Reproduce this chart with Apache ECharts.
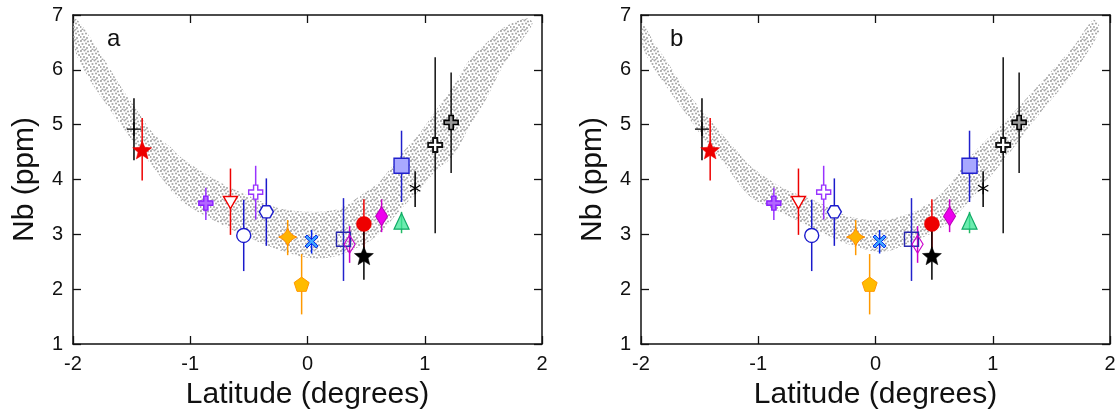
<!DOCTYPE html>
<html>
<head>
<meta charset="utf-8">
<script src="https://cdn.jsdelivr.net/npm/echarts@6/dist/echarts.min.js"></script>
<style>
html,body{margin:0;padding:0;background:#fff;}
#chart{width:1120px;height:416px;}
</style>
</head>
<body>
<div id="chart"></div>
<script>
// ---------------- DATA ----------------
const xTicks = [-2, -1, 0, 1, 2];
const yTicks = [1, 2, 3, 4, 5, 6, 7];
const panelLabels = ['a', 'b'];

// measured samples (same in both panels)
const lat    = [-1.48, -1.41, -0.867, -0.657, -0.544, -0.442, -0.351, -0.169, -0.05, 0.035, 0.307, 0.359, 0.481, 0.481, 0.632, 0.802, 0.802, 0.918, 1.089, 1.225];
const nb     = [4.92, 4.54, 3.57, 3.58, 2.98, 3.77, 3.41, 2.95, 2.09, 2.87, 2.91, 2.82, 3.19, 2.61, 3.33, 3.24, 4.25, 3.84, 4.63, 5.04];
const nbHigh = [5.48, 5.12, 3.85, 4.20, 3.63, 4.25, 4.02, 3.26, 2.64, 3.08, 3.66, 3.15, 3.64, 3.26, 3.64, 3.41, 4.89, 4.15, 6.23, 5.95];
const nbLow  = [4.35, 3.98, 3.26, 2.99, 2.33, 3.27, 2.79, 2.62, 1.54, 2.65, 2.15, 2.48, 2.75, 2.17, 3.04, 3.02, 3.59, 3.50, 3.02, 4.12];

// model cloud envelopes (upper / lower edges)
const bandA_upper = [[-1.983,6.94],[-1.74,6.21],[-1.6,5.72],[-1.457,5.27],[-1.316,4.84],[-1.174,4.6],[-1.089,4.42],[-0.805,4.02],[-0.52,3.72],[-0.237,3.47],[0.047,3.41],[0.274,3.47],[0.5,3.78],[0.62,3.97],[0.814,4.5],[0.956,4.84],[1.098,5.27],[1.24,5.69],[1.38,6.18],[1.52,6.48],[1.665,6.76],[1.87,6.94]];
const bandA_lower = [[-1.983,6.36],[-1.855,5.81],[-1.742,5.45],[-1.6,5.02],[-1.457,4.6],[-1.316,4.23],[-1.089,3.63],[-0.805,3.26],[-0.52,2.96],[-0.237,2.71],[0.047,2.56],[0.274,2.62],[0.5,2.84],[0.62,3.03],[0.814,3.5],[0.956,3.81],[1.098,4.17],[1.24,4.42],[1.38,4.96],[1.52,5.45],[1.665,6.06],[1.81,6.49],[1.92,6.85]];
const bandB_upper = [[-1.983,6.82],[-1.883,6.48],[-1.741,6.03],[-1.6,5.57],[-1.457,5.21],[-1.315,4.84],[-1.173,4.5],[-1.07,4.25],[-0.786,3.84],[-0.502,3.6],[-0.217,3.32],[0.067,3.26],[0.351,3.44],[0.578,3.78],[0.834,4.48],[1.119,5.09],[1.403,5.75],[1.687,6.42],[1.857,6.91]];
const bandB_lower = [[-1.983,6.42],[-1.883,6.0],[-1.741,5.57],[-1.6,5.15],[-1.457,4.72],[-1.315,4.36],[-1.07,3.69],[-0.786,3.38],[-0.502,3.08],[-0.217,2.81],[0.067,2.68],[0.351,2.9],[0.578,3.14],[0.834,3.69],[1.119,4.42],[1.403,5.21],[1.687,5.94],[1.914,6.73]];

// ---------------- STYLES ----------------
const STAR = 'path://M50,0 L62.93,32.2 L97.55,34.55 L70.92,56.8 L79.39,90.45 L50,72 L20.61,90.45 L29.08,56.8 L2.45,34.55 L37.07,32.2 Z';
const CROSS = 'path://M35,0 H65 V35 H100 V65 H65 V100 H35 V65 H0 V35 H35 Z';
const PLUS = 'path://M0,50 L100,50 M50,0 L50,100';
const DTRI = 'path://M0,0 L100,0 L50,87 Z';
const HEX = 'path://M25,0 L75,0 L100,43.3 L75,86.6 L25,86.6 L0,43.3 Z';
const SPARK = 'path://M50,0 Q63,37 100,50 Q63,63 50,100 Q37,63 0,50 Q37,37 50,0 Z';
const PENT = 'path://M50,0 L97.55,34.55 L79.39,90.45 L20.61,90.45 L2.45,34.55 Z';
const XMARK = 'path://M15,0 L50,35 L85,0 L100,15 L65,50 L100,85 L85,100 L50,65 L15,100 L0,85 L35,50 L0,15 Z';
const AST = 'path://M50,0 L50,100 M6.7,25 L93.3,75 M6.7,75 L93.3,25';

const sty = [
  {s: PLUS,  z: 14, fill: 'transparent', stroke: '#000', bw: 1.3, bar: '#000'},
  {s: STAR,  z: 19, fill: '#ee0000', stroke: '#ee0000', bw: 0.5, bar: '#ee0000'},
  {s: CROSS, z: 14, fill: '#b266ff', stroke: '#8a1fff', bw: 1.4, bar: '#9933ff'},
  {s: DTRI,  z: 14, fill: '#ffffff', stroke: '#ee0000', bw: 1.4, bar: '#ee0000'},
  {s: 'circle', z: 14, fill: '#ffffff', stroke: '#1a1acc', bw: 1.4, bar: '#1a1acc'},
  {s: CROSS, z: 14, fill: '#ffffff', stroke: '#9933ff', bw: 1.4, bar: '#9933ff'},
  {s: HEX,   z: 14, fill: '#ffffff', stroke: '#1a1acc', bw: 1.4, bar: '#1a1acc'},
  {s: SPARK, z: 18, fill: '#ffb300', stroke: '#ff8800', bw: 1, bar: '#ff9900'},
  {s: PENT,  z: 15, fill: '#ffbb00', stroke: '#ff9900', bw: 1, bar: '#ff9900'},
  {s: XMARK, z: 13, fill: '#3fa9ff', stroke: '#0022ee', bw: 1, bar: '#0022ee'},
  {s: 'rect', z: 14, fill: 'transparent', stroke: '#2a2ab0', bw: 1.4, bar: '#2222cc'},
  {s: 'diamond', z: [11, 18], fill: 'transparent', stroke: '#cc00cc', bw: 1.2, bar: '#cc00cc'},
  {s: 'circle', z: 15, fill: '#ee0000', stroke: '#ee0000', bw: 0.5, bar: '#ee0000'},
  {s: STAR,  z: 19, fill: '#000000', stroke: '#000000', bw: 0.5, bar: '#000000'},
  {s: 'diamond', z: [12, 19], fill: '#ee00ee', stroke: '#bb00bb', bw: 1, bar: '#cc00cc'},
  {s: 'triangle', z: [15, 16], fill: 'rgba(60,230,150,0.75)', stroke: '#11aa66', bw: 1.2, bar: '#22bb66'},
  {s: 'rect', z: 15, fill: '#a8a8ff', stroke: '#2020cc', bw: 1.4, bar: '#2020cc'},
  {s: AST,   z: 12, fill: 'transparent', stroke: '#000', bw: 1.2, bar: '#000'},
  {s: CROSS, z: 14, fill: '#ffffff', stroke: '#111', bw: 1.9, bar: '#111'},
  {s: CROSS, z: 14, fill: '#999999', stroke: '#000', bw: 1.6, bar: '#111'}
];

// dotted pattern for the model cloud
function makePattern() {
  const c = document.createElement('canvas');
  c.width = 10; c.height = 10;
  const g = c.getContext('2d');
  g.fillStyle = '#a9a9a9';
  const dots = [[1,1],[4.5,0.5],[8,1.5],[2.5,4],[6,3.5],[9,5],[0.5,7],[4,7],[7,8],[2.5,9.5],[5.5,9.8]];
  dots.forEach(d => { g.beginPath(); g.arc(d[0], d[1], 1.05, 0, Math.PI*2); g.fill(); });
  return c;
}
const pattern = {image: makePattern(), repeat: 'repeat'};

const FONT = "'Liberation Sans', Arial, Helvetica, sans-serif";
const gridDefs = [{left: 73, top: 15, width: 469, height: 329}, {left: 641, top: 15, width: 469, height: 329}];
const bands = [[bandA_upper, bandA_lower], [bandB_upper, bandB_lower]];

const option = {
  animation: false,
  backgroundColor: '#ffffff',
  grid: gridDefs,
  xAxis: [],
  yAxis: [],
  series: [],
  graphic: []
};

const axisLineStyle = {show: true, onZero: false, lineStyle: {color: '#111', width: 1.5}};
const tickStyle = {show: true, inside: true, length: 8, lineStyle: {color: '#111', width: 1.3}};

gridDefs.forEach((gd, gi) => {
  option.xAxis.push({
    gridIndex: gi, type: 'value', position: 'bottom', min: xTicks[0], max: xTicks[xTicks.length-1], interval: 1,
    axisLine: axisLineStyle, axisTick: tickStyle, splitLine: {show: false},
    axisLabel: {color: '#111', fontSize: 20, fontFamily: FONT, margin: 10},
    name: 'Latitude (degrees)', nameLocation: 'middle', nameGap: 36,
    nameTextStyle: {color: '#111', fontSize: 30, fontFamily: FONT}
  });
  option.xAxis.push({
    gridIndex: gi, type: 'value', position: 'top', min: xTicks[0], max: xTicks[xTicks.length-1], interval: 1,
    axisLine: axisLineStyle, axisTick: tickStyle, splitLine: {show: false}, axisLabel: {show: false}
  });
  option.yAxis.push({
    gridIndex: gi, type: 'value', position: 'left', min: yTicks[0], max: yTicks[yTicks.length-1], interval: 1,
    axisLine: axisLineStyle, axisTick: tickStyle, splitLine: {show: false},
    axisLabel: {color: '#111', fontSize: 20, fontFamily: FONT, margin: 10},
    name: 'Nb (ppm)', nameLocation: 'middle', nameGap: 33,
    nameTextStyle: {color: '#111', fontSize: 30, fontFamily: FONT}
  });
  option.yAxis.push({
    gridIndex: gi, type: 'value', position: 'right', min: yTicks[0], max: yTicks[yTicks.length-1], interval: 1,
    axisLine: axisLineStyle, axisTick: tickStyle, splitLine: {show: false}, axisLabel: {show: false}
  });

  const xi = gi * 2, yi = gi * 2;
  const up = bands[gi][0], lo = bands[gi][1];
  // model cloud
  option.series.push({
    type: 'custom', xAxisIndex: xi, yAxisIndex: yi, z: 1, silent: true, clip: true,
    data: up.concat(lo.slice().reverse()),
    renderItem: function (params, api) {
      if (params.dataIndex !== 0) return null;
      const poly = up.concat(lo.slice().reverse()).map(p => api.coord(p));
      return {type: 'polygon', shape: {points: poly, smooth: 0.3}, style: {fill: pattern}};
    }
  });
  // error bars
  option.series.push({
    type: 'custom', xAxisIndex: xi, yAxisIndex: yi, z: 3, silent: true,
    data: lat.map((x, i) => [x, nbLow[i], nbHigh[i], i]),
    renderItem: function (params, api) {
      const i = api.value(3);
      const a = api.coord([api.value(0), api.value(1)]);
      const b = api.coord([api.value(0), api.value(2)]);
      return {type: 'line', shape: {x1: a[0], y1: a[1], x2: b[0], y2: b[1]},
              style: {stroke: sty[i].bar, lineWidth: 1.5}};
    }
  });
  // markers
  option.series.push({
    type: 'scatter', xAxisIndex: xi, yAxisIndex: yi, z: 5, silent: true, symbolKeepAspect: true,
    data: lat.map((x, i) => ({
      value: [x, nb[i]],
      symbol: sty[i].s,
      symbolSize: sty[i].z,
      itemStyle: {color: sty[i].fill, borderColor: sty[i].stroke, borderWidth: sty[i].bw, opacity: 1}
    }))
  });
  option.graphic.push({
    type: 'text', left: gd.left + (gi === 0 ? 34 : 29), top: 27,
    style: {text: panelLabels[gi], fontSize: 24, fontFamily: FONT, fill: '#111'}
  });
});

const chart = echarts.init(document.getElementById('chart'), null, {renderer: 'canvas'});
chart.setOption(option);
</script>
</body>
</html>
